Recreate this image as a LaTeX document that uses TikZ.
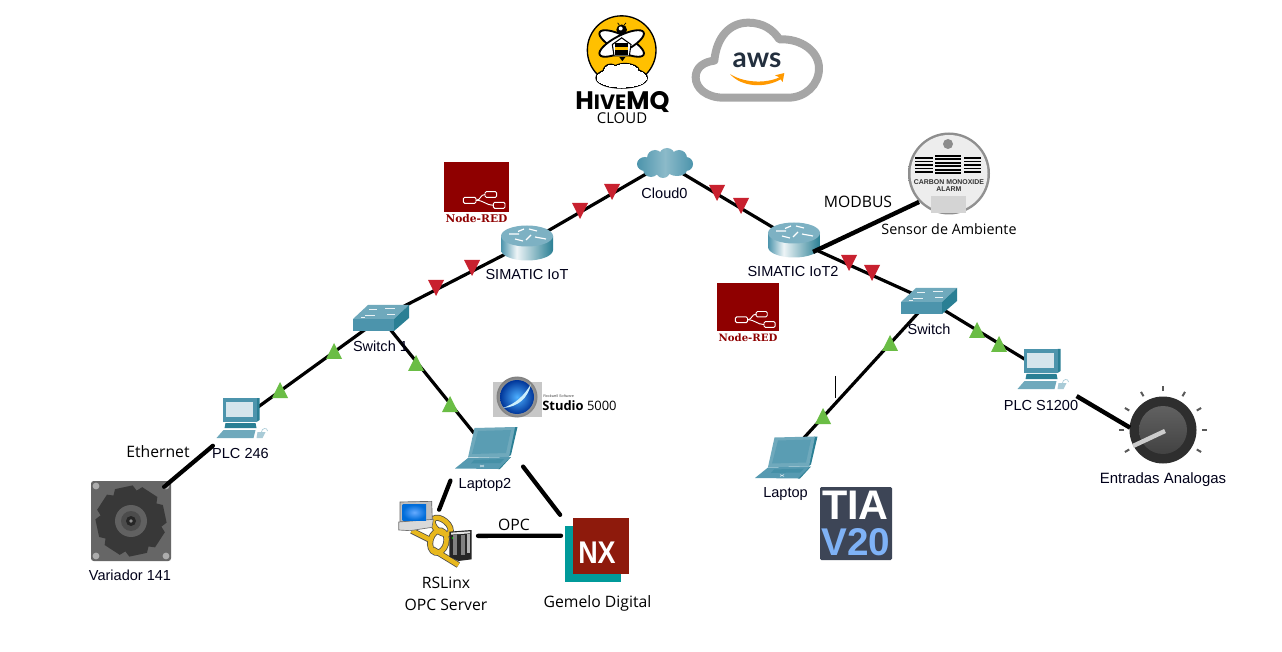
\documentclass[tikz,border=0pt]{standalone}
\usepackage{fontspec}
\usetikzlibrary{shapes.geometric}
\setmainfont{Liberation Sans}
\newfontfamily\annotfont{Open Sans}
\newfontfamily\slabfont{DejaVu Serif}
\newfontfamily\hivefont{Poppins}
\newfontfamily\awsfont{Lato}
\definecolor{tired}{HTML}{C8212F}
\definecolor{trigreen}{HTML}{6ABD45}
\definecolor{ptdark}{HTML}{2A7F94}
\definecolor{ptmid}{HTML}{4C94AC}
\definecolor{ptlight}{HTML}{6FA9BC}
\definecolor{ptscreen}{HTML}{D5E5EC}
\definecolor{nodered}{HTML}{8F0000}
\definecolor{nxred}{HTML}{8E1A0C}
\definecolor{nxteal}{HTML}{009A9A}
\definecolor{tiabg}{HTML}{3D4556}
\definecolor{tiablue}{HTML}{7FB2F6}
\definecolor{awsgray}{HTML}{A6A6A6}
\definecolor{awsink}{HTML}{232F3E}
\definecolor{awsorange}{HTML}{FF9900}
\definecolor{hiveyellow}{HTML}{FFC000}
\definecolor{chainyellow}{HTML}{E8B81E}
\pgfdeclarehorizontalshading{routerbody}{100bp}{color(0bp)=(ptmid); color(25bp)=(ptmid); color(40bp)=(white!88!ptlight); color(75bp)=(ptdark); color(100bp)=(ptdark)}
\pgfdeclarehorizontalshading{cloudbody}{100bp}{color(0bp)=(ptmid); color(25bp)=(ptmid); color(50bp)=(ptlight!80!white); color(75bp)=(ptmid); color(100bp)=(ptmid)}
\tikzset{
  x=0.75pt,y=-0.75pt,
  boxdev/.style n args={2}{rectangle,inner sep=0pt,outer sep=0pt,minimum width=#1*0.75pt,minimum height=#2*0.75pt},
  elldev/.style n args={2}{ellipse,inner sep=0pt,outer sep=0pt,minimum width=#1*0.75pt,minimum height=#2*0.75pt},
  rounddev/.style={circle,inner sep=0pt,outer sep=0pt,minimum size=#1*0.75pt},
  netlink/.style={draw=black,line width=2.4pt},
  fatlink/.style={draw=black,line width=3.3pt},
  oddlink/.style={draw=black,line width=3.2pt,line cap=round},
  ptlabel/.style={inner sep=0pt,text=black!90!blue,font=\fontsize{10.9pt}{12pt}\selectfont},
  annot/.style={inner sep=0pt,text=black,font=\annotfont\fontsize{11.8pt}{13pt}\selectfont},
  tridown/.pic={\fill[tired] (-8,-8) -- (8,-8) -- (0,8) -- cycle;},
  triup/.pic={\fill[trigreen] (-8,8) -- (8,8) -- (0,-8) -- cycle;},
  routericon/.pic={
    \path[shading=routerbody] (-26,-7) -- (-26,7) arc[start angle=180,end angle=0,x radius=26,y radius=10.5] -- (26,-7) -- cycle;
    \fill[ptlight!90!white] (0,-7) ellipse[x radius=26,y radius=10.5];
    \draw[white,line width=.9pt] (-18,-9) -- (-8,-9) (-3,-14) -- (-9,-11.5) (2,-14) -- (10,-12) (8,-6) -- (19,-4) (-4,-2) -- (-12,-4) (4,-8) -- (-1,-3);
  },
  switchicon/.pic={
    \fill[ptmid] (-28,1) -- (13,1) -- (13,13) -- (-28,13) -- cycle;
    \fill[ptlight] (-28,1) -- (-13,-13) -- (28,-13) -- (13,1) -- cycle;
    \fill[ptdark] (13,1) -- (28,-13) -- (28,0) -- (13,13) -- cycle;
    \draw[white!85!ptlight,line width=.7pt] (-12,-9) -- (-4,-9) (4,-10) -- (14,-10) (-16,-3) -- (-6,-3) (6,-4) -- (14,-4) (-20,-1) -- (-16,-1);
  },
  pcicon/.pic={
    \fill[ptdark] (15,-21) -- (18,-21) -- (18,1) -- (15,3) -- cycle;
    \fill[ptmid] (-19,-21) -- (15,-21) -- (15,3) -- (-19,3) -- cycle;
    \fill[ptscreen] (-16,-17) -- (11,-17) -- (11,-2) -- (-16,-2) -- cycle;
    \fill[ptdark] (-16,4) -- (14,4) -- (15,9) -- (-17,9) -- cycle;
    \fill[ptlight] (-18,11) -- (14,11) -- (12,19) -- (-25,19) -- cycle;
    \fill[ptlight!60!white] (16,13) -- (24,13) -- (21,19) -- (15,19) -- cycle;
    \draw[ptlight!60!white,line width=.5pt] (20,13) .. controls (20,9) and (26,8) .. (26,12);
  },
  laptopicon/.pic={
    \fill[ptdark] (28,-21) -- (31.5,-21) -- (25,7) -- (22,9) -- cycle;
    \fill[ptlight] (-11.5,-20) -- (29,-21) -- (23,9) -- (-18,9.5) -- cycle;
    \fill[ptmid!92!white] (-8,-17) -- (25,-18) -- (20,5) -- (-14,6) -- cycle;
    \fill[ptmid!70!ptlight] (-18,10) -- (24,9) -- (12,21) -- (-31,20.5) -- cycle;
    \fill[ptdark] (24,9) -- (25,9) -- (14,21) -- (12,21) -- cycle;
    \fill[ptmid!80!ptdark] (-12,12) -- (18,11) -- (14,15) -- (-15,15.5) -- cycle;
    \draw[ptscreen,line width=.4pt] (-6,17) -- (-2,19) (-6,19) -- (-2,17);
  },
  gearicon/.pic={
    \fill[black!60,rounded corners=2pt] (-40,-40) rectangle (40,40);
    \foreach \sx/\sy in {-35/-35,35/-35,-35/35,35/35}{
      \fill[black!32] (\sx,\sy) circle[radius=3.4];
    }
    \fill[black!78] (0,0) circle[radius=27];
    \foreach \a in {0,45,...,315}{
      \fill[black!78,rotate=\a+12] (-9,-34.5) -- (9,-34.5) -- (14,-24) -- (-14,-24) -- cycle;
    }
    \fill[black!62] (0,0) circle[radius=16];
    \fill[black!70] (0,0) circle[radius=10];
    \fill[black!85] (0,0) circle[radius=5];
    \fill[black!45] (0,0) circle[radius=1.8];
  },
  knobicon/.pic={
    \foreach \a in {-30,0,30,60,90,120,150,180,210}{
      \draw[black!65,line width=1.5pt,rotate=\a] (39,0) -- (44,0);
    }
    \fill[black!82] (0,0) circle[radius=33.5];
    \shade[top color=black!62,bottom color=black!74] (0,0) circle[radius=24];
    \draw[white!80!black,line width=3.3pt] (2,1) -- (-30,16);
  },
}
\begin{document}
\begin{tikzpicture}
\useasboundingbox (0,0) rectangle (1282,652);
\fill[white] (0,0) rectangle (1282,652);

% ---- anchors of the devices
\node[elldev={56}{30}] (cloud) at (665,163) {};
\node[elldev={52}{35}] (iotA) at (527,243) {};
\node[elldev={52}{35}] (iotB) at (794,240) {};
\node[boxdev={57}{27}] (swA) at (381,318) {};
\node[boxdev={58}{26}] (swB) at (929,301) {};
\node[boxdev={51}{42}] (plcA) at (241.5,419) {};
\node[boxdev={51}{42}] (plcB) at (1042.5,370) {};
\node[boxdev={62}{42}] (lapA) at (486,448) {};
\node[boxdev={62}{43}] (lapB) at (786,457.5) {};
\node[boxdev={80}{80}] (drive) at (131,521) {};
\node[boxdev={74}{65}] (rslinx) at (435,532) {};
\node[boxdev={64}{64}] (nx) at (597,550) {};
\node[rounddev=82] (sensor) at (949,174) {};
\node[rounddev=66] (knob) at (1163,430) {};

% ---- links that the devices cover at their ends
\draw[netlink] (cloud.center) -- (iotA.center);
\draw[netlink] (iotA.center) -- (swA.center);
\draw[netlink] (swA.center) -- (plcA.center);
\draw[netlink] (swA.center) -- (lapA.center);
\draw[netlink] (cloud.center) -- (iotB.center);
\draw[netlink] (iotB.center) -- (swB.center);
\draw[netlink] (swB.center) -- (lapB.center);
\draw[netlink] (swB.center) -- (plcB.center);

% ---- cloud icon
\path[shading=cloudbody]
  (645,164) ellipse[x radius=8,y radius=7]
  (655,158) circle[radius=8]
  (667,156) circle[radius=8]
  (679,158) circle[radius=8]
  (686,164) ellipse[x radius=7,y radius=7]
  (677,170) ellipse[x radius=10,y radius=6]
  (663,171) circle[radius=7]
  (651,169) circle[radius=8]
  (665,163) ellipse[x radius=20,y radius=8];

% ---- devices
\pic at (527,243) {routericon};
\pic at (794,240) {routericon};
\pic at (381,318) {switchicon};
\pic at (929,301) {switchicon};
\pic at (241.5,419) {pcicon};
\pic at (1042.5,370) {pcicon};
\pic at (486,448) {laptopicon};
\pic at (786,457.5) {laptopicon};
\pic at (131,521) {gearicon};
\pic at (1163,430) {knobicon};

% ---- link state triangles
\foreach \px/\py in {612/192,580/211,472/268,436/288,717/193,741/206,849/263,872/273}{
  \pic at (\px,\py) {tridown};
}
\foreach \px/\py in {334/351,280/390,416/363,450/404,890/343,823/416,977/330,999/344}{
  \pic at (\px,\py) {triup};
}

% ---- Studio 5000
\fill[black!22] (493,382) rectangle (542,417);
\shade[inner color=black!5,outer color=black!50] (517,397) circle[radius=20.5];
\shade[inner color=blue!45!cyan!70!white,outer color=blue!65!cyan!60!black] (517,397) circle[radius=17];
\fill[white!80!cyan] (503,408) .. controls (515,404) and (524,396) .. (531,384) .. controls (528,398) and (518,407) .. (503,408) -- cycle;
\node[inner sep=0pt,anchor=west,font=\fontsize{2.8pt}{3pt}\selectfont,text=black!70] (rock) at (543,396.5) {Rockwell Software};
\node[inner sep=0pt,anchor=west,font=\annotfont\fontsize{9.7pt}{12pt}\selectfont] (studio) at (542,406) {\textbf{Studio} 5000};

% ---- RSLinx icon (coordinates of a 3x crop)
\begin{scope}[shift={(390,490)},scale=1/3]
  \foreach \cw/\lw in {black!70/4.6pt,chainyellow/3.4pt}{
    \draw[\cw,line width=\lw] (65,122) -- (125,152);
    \draw[\cw,line width=\lw] (128,178) -- (205,225);
    \draw[\cw,line width=\lw,rotate around={-15:(145,155)}] (145,155) ellipse[x radius=24,y radius=34];
    \draw[\cw,line width=\lw,rotate around={50:(155,108)}] (155,108) ellipse[x radius=18,y radius=32];
  }
  \fill[black!85] (178,125) -- (245,120) -- (245,208) -- (205,213) -- (178,200) -- cycle;
  \fill[black!50] (188,135) rectangle (200,196);
  \fill[black!50] (212,135) rectangle (225,196);
  \fill[black!30] (232,132) rectangle (240,190);
  \fill[black!10] (183,128) -- (240,124) -- (240,130) -- (183,134) -- cycle;
  \fill[green!70!black] (185,142) rectangle (190,147);
  \fill[black!25,draw=black!60,line width=.5pt] (30,36) -- (125,34) -- (127,90) -- (30,96) -- cycle;
  \fill[black!15,draw=black!55,line width=.5pt] (26,96) -- (130,88) -- (126,112) -- (60,122) -- (26,120) -- cycle;
  \shade[inner color=cyan!45!blue!60!white,outer color=blue!50!cyan!85!black] (38,44) rectangle (108,90);
\end{scope}

% ---- NX icon
\fill[nxteal] (565,526) rectangle (621,582);
\fill[nxred] (573,518) rectangle (629,574);
\node[inner sep=0pt,text=white,font=\fontsize{23.5pt}{24pt}\selectfont\bfseries] (nxtext) at (597,552.5) {\scalebox{.86}[1]{NX}};

% ---- TIA icon
\fill[tiabg,rounded corners=1pt] (820,487) rectangle (892,560);
\node[inner sep=0pt,text=white,font=\fontsize{31pt}{32pt}\selectfont\bfseries] (tia) at (855.5,505) {TIA};
\node[inner sep=0pt,text=tiablue,font=\fontsize{29pt}{30pt}\selectfont\bfseries] (vtwenty) at (856,542) {V20};

% ---- Node-RED icons
\foreach \ox/\oy/\sw/\sh/\tname in {444/162/65/50/noderedA,717/283/62/48/noderedB}{
  \begin{scope}[shift={(\ox,\oy)},xscale=\sw/65,yscale=\sh/50]
    \fill[nodered] (0,0) rectangle (65,50);
    \draw[white,line width=.7pt,rounded corners=1pt] (19.3,35.3) rectangle (32,41.3);
    \draw[white,line width=.7pt,rounded corners=1pt] (41,29.7) rectangle (52.7,35.3);
    \draw[white,line width=.7pt,rounded corners=1pt] (49.3,40.3) rectangle (61,46.3);
    \draw[white,line width=.7pt] (32,38.3) .. controls (37,38.3) and (36,32.5) .. (41,32.5);
    \draw[white,line width=.7pt] (32,38.3) .. controls (40,38.3) and (42,43.3) .. (49.3,43.3);
  \end{scope}
}
\node[inner sep=0pt,text=nodered,font=\slabfont\bfseries\fontsize{8pt}{9pt}\selectfont] (nrtA) at (476.5,219) {Node-RED};
\node[inner sep=0pt,text=nodered,font=\slabfont\bfseries\fontsize{7.6pt}{9pt}\selectfont] (nrtB) at (748,338) {Node-RED};

% ---- CO sensor
\shade[inner color=black!3,middle color=black!10,outer color=black!45] (949,173.5) circle[radius=41];
\fill[black!7] (949,173.5) circle[radius=38.5];
\fill[black!45] (948,144) circle[radius=5];
\foreach \yy in {158,161.5,165,168.5,172}{
  \fill[black] (915,\yy-.9) rectangle (933,\yy+.9);
  \fill[black] (963.5,\yy-.9) rectangle (981,\yy+.9);
}
\foreach \yy in {156,159.4,162.8,166.2,169.6,173}{
  \fill[black] (935,\yy-1) rectangle (961,\yy+1);
}
\node[inner sep=0pt,font=\fontsize{5.2pt}{5pt}\selectfont\bfseries,text=black!80] (coA) at (949,182) {CARBON MONOXIDE};
\node[inner sep=0pt,font=\fontsize{5.2pt}{5pt}\selectfont\bfseries,text=black!80] (coB) at (949,189) {ALARM};
\fill[black!17] (931,196) rectangle (966,213);

% ---- HiveMQ logo (coordinates of a 3x crop)
\begin{scope}[shift={(570,8.5)},scale=1/3]
  \fill[hiveyellow,draw=black,line width=1pt] (155,125) circle[radius=103];
  \draw[black,line width=1.4pt,fill=white,rotate around={-27:(155,105)}] (155,105) ellipse[x radius=74,y radius=24];
  \draw[black,line width=1.4pt,fill=white,rotate around={27:(155,105)}] (155,105) ellipse[x radius=74,y radius=24];
  \fill[black] (155,64) circle[radius=16];
  \fill[white] (152,60) circle[radius=6];
  \draw[black,line width=.5pt] (148,50) -- (143,43) (162,50) -- (168,43);
  \draw[black,line width=.8pt,fill=white] (155,88) -- (183,108) -- (178,142) -- (132,142) -- (127,108) -- cycle;
  \fill[black] (135,104) rectangle (175,116);
  \fill[hiveyellow] (135,116) rectangle (175,124);
  \fill[black] (135,124) rectangle (175,140);
  \fill[black] (148,146) -- (166,146) -- (157,158) -- cycle;
  \foreach \wd/\cc in {2.4pt/black,0pt/white}{
    \path[fill=\cc,draw=\cc,line width=\wd]
      (155,208) ellipse[x radius=74,y radius=28]
      (122,190) circle[radius=20]
      (165,188) ellipse[x radius=40,y radius=20];
  }
\end{scope}
\node[inner sep=0pt,text depth=0pt,font=\hivefont\bfseries] (hive) at (622.5,100.5) {\fontsize{19pt}{20pt}\selectfont H\fontsize{15.5pt}{20pt}\selectfont IVE\fontsize{19pt}{20pt}\selectfont MQ};
\node[annot,font=\annotfont\fontsize{11.2pt}{13pt}\selectfont] (hivecloud) at (622,118.5) {CLOUD};

% ---- AWS logo
\begin{scope}[shift={(560,0)},scale=1/3]
  \draw[awsgray,line width=6pt,line join=round]
    (490,293) .. controls (440,293) and (407,265) .. (407,232)
    .. controls (407,200) and (435,185) .. (463,182)
    .. controls (470,110) and (510,68) .. (565,68)
    .. controls (610,68) and (640,90) .. (658,118)
    .. controls (725,115) and (777,155) .. (777,205)
    .. controls (777,255) and (735,293) .. (685,293) -- cycle;
  \fill[awsorange] (510,222) .. controls (550,248) and (615,252) .. (658,232) -- (645,226) -- (673,219) -- (668,246) -- (662,238) .. controls (615,265) and (545,262) .. (510,222) -- cycle;
\end{scope}
\node[inner sep=0pt,text=awsink,font=\awsfont\bfseries\fontsize{21pt}{22pt}\selectfont] (awstext) at (757,60.5) {aws};

% ---- links drawn over the devices
\draw[fatlink] (sensor.223) -- (iotB.-32);
\draw[fatlink,shorten <=10*0.75pt] (plcB.south east) -- (knob.176);
\draw[oddlink,shorten <=9*0.75pt,shorten >=-9*0.75pt] (plcA.224) -- (drive.north east);
\draw[oddlink,shorten <=12.5*0.75pt,shorten >=-11*0.75pt] (lapA.south west) -- (rslinx.76);
\draw[oddlink,shorten <=10*0.75pt,shorten >=8*0.75pt] (lapA.-19.5) -- (nx.138.3);
\draw[oddlink,shorten <=6*0.75pt,shorten >=4*0.75pt] (rslinx.-6) -- (nx.156.4);

% ---- stray mark
\draw[black,line width=.75pt] (835.5,376) -- (835.5,398);

% ---- labels
\node[ptlabel] (tCloud) at (664.5,193) {Cloud0};
\node[ptlabel] (tIotA) at (527,274) {SIMATIC IoT};
\node[ptlabel] (tIotB) at (793,271) {SIMATIC IoT2};
\node[ptlabel] (tSwA) at (380.5,346.5) {Switch 1};
\node[ptlabel] (tSwB) at (929,329) {Switch};
\node[ptlabel] (tPlcA) at (240.5,453.5) {PLC 246};
\node[ptlabel] (tPlcB) at (1041,405) {PLC S1200};
\node[ptlabel] (tLapA) at (485,484.5) {Laptop2};
\node[ptlabel] (tLapB) at (785.5,494) {Laptop};
\node[ptlabel] (tDrive) at (130,575.5) {Variador 141};
\node[ptlabel,font=\fontsize{11.2pt}{12pt}\selectfont] (tKnob) at (1163,479.5) {Entradas Analogas};
\node[annot] (tEth) at (158,452) {Ethernet};
\node[annot] (tModbus) at (858,202) {MODBUS};
\node[annot] (tOpc) at (514,524.5) {OPC};
\node[annot] (tRs) at (446,582.5) {RSLinx};
\node[annot] (tOpcS) at (446,604.5) {OPC Server};
\node[annot] (tNx) at (597.5,603.5) {Gemelo Digital};
\node[annot,font=\annotfont\fontsize{10.75pt}{12pt}\selectfont] (tSensor) at (949,229) {Sensor de Ambiente};
\end{tikzpicture}
\end{document}
